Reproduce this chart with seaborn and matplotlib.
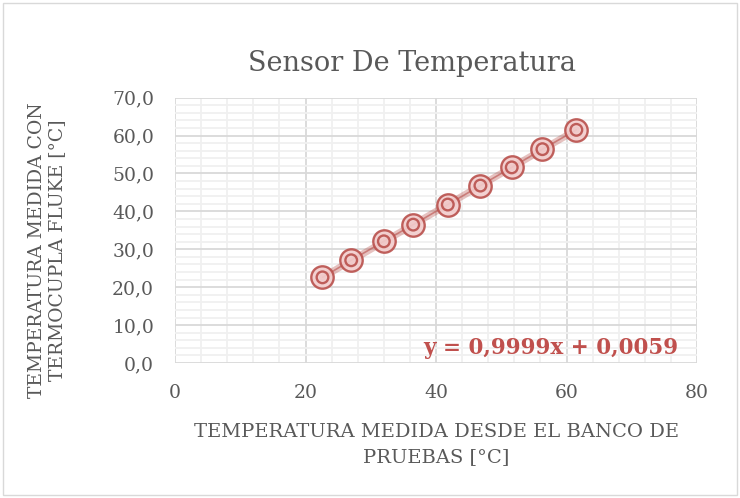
import numpy as np
import pandas as pd
import matplotlib
matplotlib.use("Agg")
import matplotlib.pyplot as plt
import seaborn as sns
from matplotlib.ticker import MultipleLocator, FuncFormatter
from matplotlib.patches import Rectangle

# Data
banco = [22.6, 27.0, 32.0, 36.5, 41.8, 46.8, 51.6, 56.3, 61.5]
fluke = [22.6, 27.1, 32.1, 36.5, 41.8, 46.8, 51.6, 56.4, 61.5]
slope = 0.9999
intercept = 0.0059
title = "Sensor De Temperatura"
xlabel = "TEMPERATURA MEDIDA DESDE EL BANCO DE\nPRUEBAS [°C]"
ylabel = "TEMPERATURA MEDIDA CON\nTERMOCUPLA FLUKE [°C]"
equation = "y = 0,9999x + 0,0059"

df = pd.DataFrame({"banco": banco, "fluke": fluke})
xs = np.array([min(banco), max(banco)])
trend = pd.DataFrame({"x": xs, "y": slope * xs + intercept})

sns.set_style("white")
plt.rcParams["font.family"] = ["DejaVu Serif"]

fig = plt.figure(figsize=(7.4, 4.98), dpi=100)
ax = fig.add_axes([0.2365, 0.271, 0.7055, 0.533])

red = "#b9504c"
sns.lineplot(data=trend, x="x", y="y", ax=ax, color=red, alpha=0.35, linewidth=5, zorder=3)
sns.lineplot(data=df, x="banco", y="fluke", ax=ax, color=red, alpha=0.6, linewidth=1.2, zorder=4)
sns.scatterplot(data=df, x="banco", y="fluke", ax=ax, s=260, facecolor=(0.95, 0.8, 0.8, 0.35),
                edgecolor=red, linewidth=1.7, alpha=0.9, zorder=5)
sns.scatterplot(data=df, x="banco", y="fluke", ax=ax, s=70, facecolor="none",
                edgecolor=red, linewidth=1.7, alpha=0.9, zorder=6)

ax.set_xlim(0, 80)
ax.set_ylim(0, 70)
ax.xaxis.set_major_locator(MultipleLocator(20))
ax.xaxis.set_minor_locator(MultipleLocator(4))
ax.yaxis.set_major_locator(MultipleLocator(10))
ax.yaxis.set_minor_locator(MultipleLocator(2))
ax.yaxis.set_major_formatter(FuncFormatter(lambda v, p: f"{v:.1f}".replace(".", ",")))
ax.xaxis.set_major_formatter(FuncFormatter(lambda v, p: f"{v:.0f}"))
ax.grid(which="major", color="#d9d9d9", linewidth=1.3)
ax.grid(which="minor", color="#f0f0f0", linewidth=1.3)
ax.set_axisbelow(True)
for s in ax.spines.values():
    s.set_visible(False)
ax.tick_params(which="both", length=0, labelsize=13.5, labelcolor="#595959")
ax.tick_params(axis="x", pad=15)
ax.tick_params(axis="y", pad=15)

ax.set_xlabel(xlabel, fontsize=14, color="#595959", linespacing=1.5)
ax.set_ylabel(ylabel, fontsize=13.5, color="#595959", linespacing=1.2)
ax.xaxis.set_label_coords(0.5, -0.225)
ax.yaxis.set_label_coords(-0.208, 0.426)
fig.text(0.557, 0.873, title, ha="center", va="center", fontsize=19.5, color="#595959")

ax.text(0.475, 0.055, equation, transform=ax.transAxes, ha="left", va="center",
        fontsize=15.5, fontweight="bold", color="#c0504d")

fig.patches.append(Rectangle((0.004, 0.006), 0.992, 0.988, transform=fig.transFigure,
                             fill=False, edgecolor="#d9d9d9", linewidth=1))

fig.savefig("out.png", dpi=100)
